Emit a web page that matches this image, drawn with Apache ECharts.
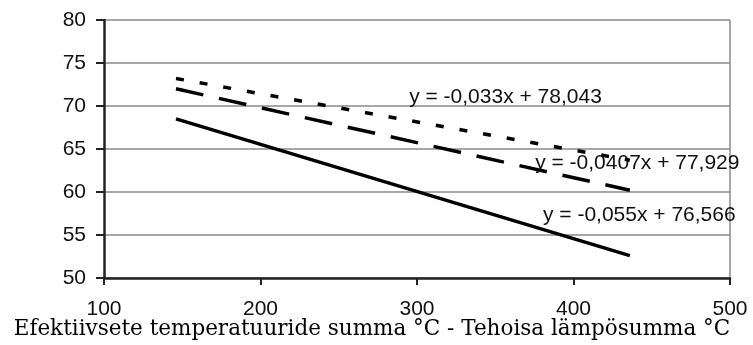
<!DOCTYPE html>
<html><head><meta charset="utf-8">
<script src="https://cdn.jsdelivr.net/npm/echarts@6/dist/echarts.min.js"></script>
<style>html,body{margin:0;padding:0;background:#fff}#c{width:753px;height:345px}</style>
</head><body><div id="c"></div>
<script>
const xEnds = [146, 436];
const solidVals = [68.5, 52.6];
const dashedVals = [72.0, 60.2];
const dottedVals = [73.2, 63.7];
const eqTexts = ['y = -0,033x + 78,043', 'y = -0,0407x + 77,929', 'y = -0,055x + 76,566'];
const eqAnchors = [[295, 71.0], [375.5, 63.4], [380.5, 57.3]];
const xTitle = 'Efektiivsete temperatuuride summa °C - Tehoisa lämpösumma °C';

const chart = echarts.init(document.getElementById('c'));
function pts(v){ return xEnds.map((x,i)=>[x, v[i]]); }
function eqMark(i){
  return {coord: eqAnchors[i], symbolSize: 0, symbol:'circle',
    label:{show:true, position:'right', distance:0, formatter: eqTexts[i],
      color:'#111', fontFamily:'Liberation Sans, Arial', fontSize:21}};
}
const lineBase = {type:'line', symbol:'none', silent:true, animation:false};
chart.setOption({
  animation:false,
  grid:{left:104, right:23, top:20, bottom:67, containLabel:false, outerBoundsMode:'none'},
  xAxis:{type:'value', min:100, max:500, interval:100,
    axisLine:{lineStyle:{color:'#222', width:2.5}},
    axisTick:{show:true, length:7, lineStyle:{color:'#222', width:2}},
    axisLabel:{margin:21, color:'#111', fontFamily:'Liberation Sans, Arial', fontSize:21},
    splitLine:{show:false}},
  yAxis:{type:'value', min:50, max:80, interval:5,
    axisLine:{show:true, onZero:false, lineStyle:{color:'#222', width:2.5}},
    axisTick:{show:true, length:8, lineStyle:{color:'#222', width:2}},
    axisLabel:{margin:18, color:'#111', fontFamily:'Liberation Sans, Arial', fontSize:21},
    splitLine:{show:true, lineStyle:{color:'#8a8a8a', width:1.5}}},
  series:[
    Object.assign({}, lineBase, {data: pts(dottedVals), lineStyle:{color:'#000', width:3.5, type:[8,16]},
      markPoint:{silent:true, data:[eqMark(0)]}}),
    Object.assign({}, lineBase, {data: pts(dashedVals), lineStyle:{color:'#000', width:3.5, type:[28,16]},
      markPoint:{silent:true, data:[eqMark(1)]}}),
    Object.assign({}, lineBase, {data: pts(solidVals), lineStyle:{color:'#000', width:3.5},
      markPoint:{silent:true, data:[eqMark(2)]}})
  ]
});
const r = chart.convertToPixel({xAxisIndex:0,yAxisIndex:0},[500,80]);
const b = chart.convertToPixel({xAxisIndex:0,yAxisIndex:0},[500,50]);
chart.setOption({graphic:[
  {type:'line', silent:true, shape:{x1:r[0],y1:r[1],x2:b[0],y2:b[1]}, style:{stroke:'#8a8a8a', lineWidth:1.5}},
  {type:'text', silent:true, x:372, y:329, style:{text:xTitle, fill:'#000', font:'21.5px "DejaVu Serif", serif', align:'center', verticalAlign:'middle'}}
]});
</script></body></html>
